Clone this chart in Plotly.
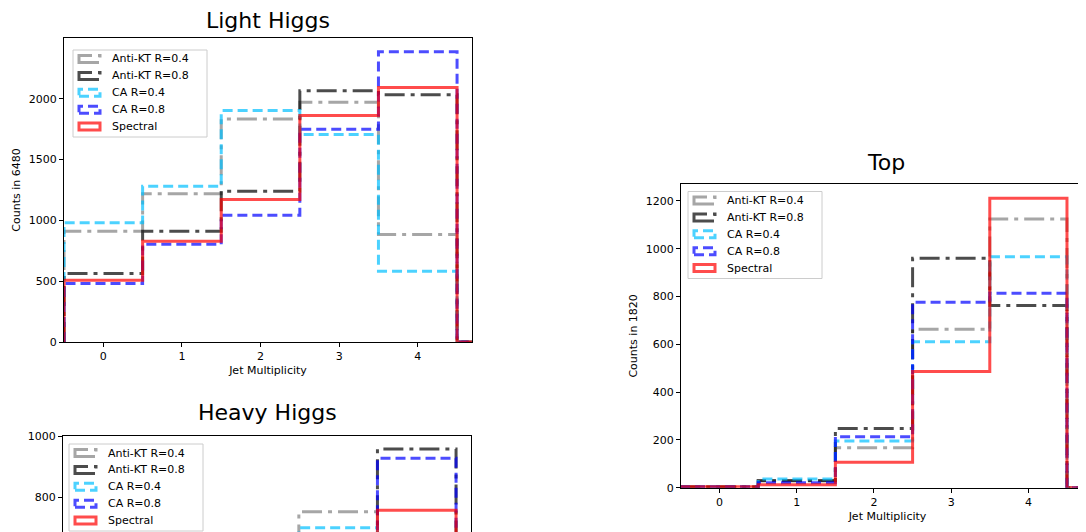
import plotly.graph_objects as go

# ---------------- data ----------------
bin_edges = [-0.5, 0.5, 1.5, 2.5, 3.5, 4.5, 5.5]   # last bin is empty
series_names = ["Anti-KT R=0.4", "Anti-KT R=0.8", "CA R=0.4", "CA R=0.8", "Spectral"]

light_akt04 = [910, 1219, 1834, 1970, 883, 0]
light_akt08 = [563, 910, 1240, 2066, 2033, 0]
light_ca04 = [981, 1281, 1902, 1705, 582, 0]
light_ca08 = [481, 803, 1041, 1749, 2385, 0]
light_spec = [508, 828, 1172, 1861, 2093, 0]

# heavy Higgs: only the upper part of the panel is visible; lower bins estimated
heavy_akt04 = [20, 110, 420, 753, 600, 0]
heavy_akt08 = [10, 60, 250, 620, 959, 0]
heavy_ca04 = [25, 130, 450, 700, 580, 0]
heavy_ca08 = [10, 70, 270, 620, 929, 0]
heavy_spec = [15, 90, 330, 640, 758, 0]

top_akt04 = [4, 30, 167, 663, 1125, 0]
top_akt08 = [3, 29, 248, 960, 762, 0]
top_ca04 = [4, 36, 195, 611, 967, 0]
top_ca08 = [4, 21, 213, 776, 814, 0]
top_spec = [4, 12, 106, 486, 1211, 0]

panel_titles = ["Light Higgs", "Heavy Higgs", "Top"]
y_titles = ["Counts in 6480", "", "Counts in 1820"]
x_title = "Jet Multiplicity"

# ---------------- styles ----------------
W, H = 1086, 532
OFF = 8  # page body margin in the browser
FONT = "DejaVu Sans"
colors = ["rgba(128,128,128,0.7)", "rgba(0,0,0,0.7)", "rgba(0,191,255,0.7)",
          "rgba(0,0,255,0.7)", "rgba(255,0,0,0.7)"]
dashdot = "20px,6px,4px,6px"
dashes = [dashdot, dashdot, "10px,5px", "10px,5px", "solid"]


def fx(p):
    """screen pixel -> paper x"""
    return (p - OFF) / W


def fy(p):
    """screen pixel -> paper y"""
    return 1 - (p - OFF) / H


panels = [
    dict(data=[light_akt04, light_akt08, light_ca04, light_ca08, light_spec],
         xd=[fx(64), fx(472)], yd=[fy(342), fy(38)],
         xr=[-0.5, 4.69], yr=[0, 2499], dtick=500, leg=(73, 50)),
    dict(data=[heavy_akt04, heavy_akt08, heavy_ca04, heavy_ca08, heavy_spec],
         xd=[fx(63), fx(471)], yd=[0, fy(435.7)],
         xr=[-0.5, 4.69], yr=[660, 1003], dtick=200, leg=(69, 444)),
    dict(data=[top_akt04, top_akt08, top_ca04, top_ca08, top_spec],
         xd=[fx(681), 1.0], yd=[fy(487.7), fy(184)],
         xr=[-0.5, 4.85], yr=[0, 1271], dtick=200, leg=(688, 191.5)),
]

fig = go.Figure()

for i, p in enumerate(panels):
    xa = "x" if i == 0 else f"x{i+1}"
    ya = "y" if i == 0 else f"y{i+1}"
    for name, vals, c, d in zip(series_names, p["data"], colors, dashes):
        xs = [bin_edges[0]] + bin_edges
        ys = [0] + vals + [vals[-1]]
        fig.add_trace(go.Scatter(
            x=xs, y=ys, mode="lines", name=name,
            line=dict(color=c, width=3, dash=d, shape="hv"),
            xaxis=xa, yaxis=ya, showlegend=False, hoverinfo="skip"))

axis_common = dict(showgrid=False, zeroline=False, showline=True, linecolor="black",
                   linewidth=1, ticks="outside", ticklen=4, tickcolor="black",
                   automargin=False,
                   tickfont=dict(family=FONT, size=11, color="black"))

layout = dict(
    width=W, height=H, margin=dict(l=0, r=0, t=0, b=0, autoexpand=False),
    plot_bgcolor="white", paper_bgcolor="white", showlegend=False,
    font=dict(family=FONT, size=11, color="black"),
)

for i, p in enumerate(panels):
    sfx = "" if i == 0 else str(i + 1)
    xa = dict(axis_common, domain=p["xd"], range=p["xr"], dtick=1, tick0=0,
              anchor="y" + sfx)
    ya = dict(axis_common, domain=p["yd"], range=p["yr"], dtick=p["dtick"], tick0=0,
              anchor="x" + sfx, mirror=True)
    if i == 0 or i == 2:
        xa.update(mirror=True,
                  title=dict(text=x_title, font=dict(family=FONT, size=11), standoff=4))
        ya.update(title=dict(text=y_titles[i], font=dict(family=FONT, size=11), standoff=5))
    if i == 1:
        # only the top of this panel is inside the picture
        xa.update(side="top", ticks="", showticklabels=False)
    if i == 2:
        ya.update(mirror=False)
    layout["xaxis" + sfx] = xa
    layout["yaxis" + sfx] = ya

# ---- matplotlib-style legends (frame + rectangle handles + labels) ----
shapes = []
annotations = []
LEG_W, LEG_H = 134, 87
ITEM0, ITEM_DY = 9, 16.9
for p in panels:
    lx, ly = p["leg"]
    shapes.append(dict(type="rect", xref="paper", yref="paper",
                       x0=fx(lx), x1=fx(lx + LEG_W), y0=fy(ly + LEG_H), y1=fy(ly),
                       line=dict(color="#cccccc", width=1),
                       fillcolor="rgba(255,255,255,0.8)", layer="above"))
    for k, (name, c, d) in enumerate(zip(series_names, colors, dashes)):
        cy = ly + ITEM0 + k * ITEM_DY
        shapes.append(dict(type="rect", xref="paper", yref="paper",
                           x0=fx(lx + 6), x1=fx(lx + 27), y0=fy(cy + 3.5), y1=fy(cy - 3.5),
                           line=dict(color=c, width=3, dash=d),
                           fillcolor="rgba(0,0,0,0)", layer="above"))
        annotations.append(dict(text=name, x=fx(lx + 36.5), y=fy(cy), xref="paper",
                                yref="paper", xanchor="left", yanchor="middle",
                                showarrow=False,
                                font=dict(family=FONT, size=11, color="black")))

title_pos = [(268, 20.5), (267, 412), (886, 162)]
for t, (tx, ty) in zip(panel_titles, title_pos):
    annotations.append(dict(text=t, x=fx(tx), y=fy(ty), xref="paper", yref="paper",
                            xanchor="center", yanchor="middle", showarrow=False,
                            font=dict(family=FONT, size=22, color="black")))
layout["shapes"] = shapes
layout["annotations"] = annotations

fig.update_layout(**layout)
fig.write_html("out.html", config={"displayModeBar": False})
